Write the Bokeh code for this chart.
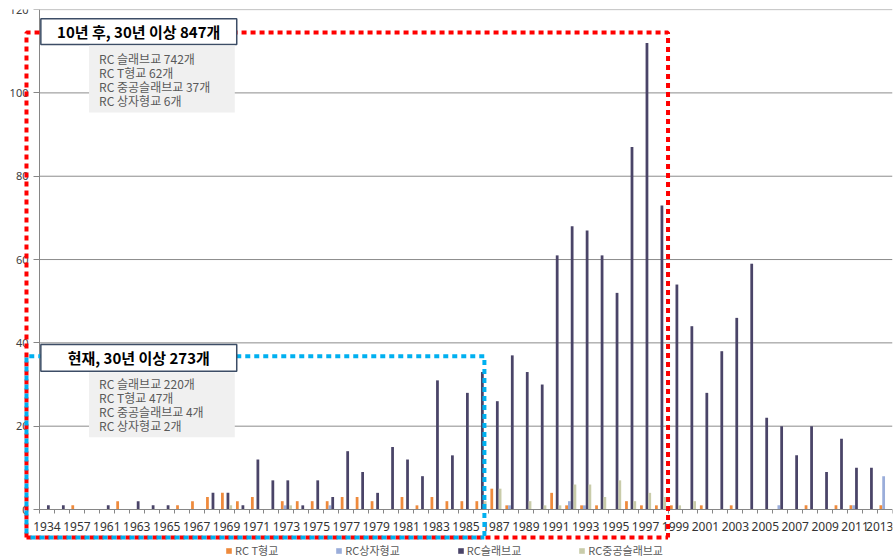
import numpy as np
from bokeh.plotting import figure
from bokeh.models import Range1d, FixedTicker, ColumnDataSource, Legend, LegendItem
from bokeh.core.properties import value
from bokeh.embed import file_html
from bokeh.resources import INLINE

# ---------------- data ----------------
years = ["1934", "1955", "1957", "1959"] + [str(y) for y in range(1961, 2014)]
rc_t = [0, 0, 1, 0, 0, 2, 0, 0, 0, 1, 2, 3, 4, 2, 3, 0, 2, 2, 2, 2,
        3, 3, 2, 0, 3, 1, 3, 2, 2, 2, 5, 1, 0, 0, 4, 1, 1, 1, 0, 2,
        1, 1, 1, 0, 1, 0, 1, 0, 0, 0, 0, 1, 0, 1, 1, 0, 1]
rc_box = [0, 0, 0, 0, 0, 0, 0, 0, 0, 0, 0, 0, 0, 0, 0, 0, 1, 0, 0, 1,
          0, 0, 0, 0, 0, 0, 0, 0, 0, 0, 0, 1, 0, 0, 0, 2, 1, 0, 0, 0,
          0, 0, 0, 0, 0, 0, 0, 0, 0, 1, 0, 0, 0, 0, 1, 0, 8]
rc_slab = [1, 1, 0, 0, 1, 0, 2, 1, 1, 0, 0, 4, 4, 1, 12, 7, 7, 1, 7, 3,
           14, 9, 4, 15, 12, 8, 31, 13, 28, 33, 26, 37, 33, 30, 61, 68, 67, 61, 52, 87,
           112, 73, 54, 44, 28, 38, 46, 59, 22, 20, 13, 20, 9, 17, 10, 10, 0]
rc_hollow = [0, 0, 0, 0, 0, 0, 0, 0, 0, 0, 0, 0, 1, 0, 0, 0, 1, 0, 0, 0,
             0, 0, 0, 0, 0, 0, 0, 0, 0, 2, 5, 0, 2, 1, 1, 6, 6, 3, 7, 2,
             4, 3, 1, 2, 0, 0, 0, 0, 0, 0, 0, 0, 0, 0, 0, 0, 0]
series_names = ["RC T형교", "RC상자형교", "RC슬래브교", "RC중공슬래브교"]
y_ticks = [0, 20, 40, 60, 80, 100, 120]

title_later = "10년 후, 30년 이상 847개"
notes_later = ["RC 슬래브교 742개", "RC T형교 62개", "RC 중공슬래브교  37개", "RC 상자형교 6개"]
title_now = "현재, 30년 이상 273개"
notes_now = ["RC 슬래브교 220개", "RC T형교 47개", "RC 중공슬래브교   4개", "RC 상자형교 2개"]

# ---------------- styles ----------------
colors = ["#EE8A3C", "#9AADDA", "#4A4468", "#C9CCAA"]
KR_NAME = "Noto Sans CJK KR"
KR = value(KR_NAME)
n = len(years)
x_lo, x_hi = -0.5, n - 0.5          # extent of the category axis
x_start = x_hi - 892 * n / 853.0    # extra room on the left for the y labels

# the frame covers the whole figure; both axes are pinned inside it
p = figure(width=893, height=560,
           x_range=Range1d(x_start, x_hi), y_range=Range1d(-12.24, 120.02),
           output_backend="svg", toolbar_location=None,
           min_border_left=0, min_border_right=1, min_border_top=9, min_border_bottom=0)
p.outline_line_color = None
p.background_fill_color = "white"
p.border_fill_color = "white"

# horizontal gridlines between the axis limits
p.segment(x0=[x_lo] * (len(y_ticks) - 1), x1=[x_hi] * (len(y_ticks) - 1),
          y0=y_ticks[1:], y1=y_ticks[1:], line_color="#8C8C8C", line_width=1,
          level="underlay")

# bars
idx = np.arange(n)
step = 0.185
renderers = []
for k, (vals, col) in enumerate(zip([rc_t, rc_box, rc_slab, rc_hollow], colors)):
    src = ColumnDataSource(dict(x=idx + (k - 1.5) * step, top=vals))
    r = p.vbar(x="x", top="top", bottom=0, width=step, source=src,
               fill_color=col, line_color=None)
    renderers.append(r)

# axes
xa = p.xaxis[0]
xa.fixed_location = 0
xa.bounds = (x_lo, x_hi)
xa.ticker = FixedTicker(ticks=list(range(0, n, 2)),
                        minor_ticks=[i - 0.5 for i in range(n + 1)])
xa.major_label_overrides = {i: years[i] for i in range(0, n, 2)}
xa.major_tick_line_color = None
xa.major_tick_out = 0
xa.major_tick_in = 0
xa.minor_tick_out = 4
xa.minor_tick_in = 0
xa.minor_tick_line_color = "#868686"
xa.axis_line_color = "#868686"
xa.major_label_standoff = 8
xa.major_label_text_font = "Noto Sans"
xa.major_label_text_font_size = "12px"
xa.major_label_text_color = "#333333"

ya = p.yaxis[0]
ya.fixed_location = x_lo
ya.ticker = FixedTicker(ticks=y_ticks)
ya.bounds = (0, 120)
ya.minor_tick_line_color = None
ya.major_tick_out = 6
ya.major_tick_in = 0
ya.major_tick_line_color = "#868686"
ya.axis_line_color = "#868686"
ya.major_label_standoff = 5
ya.major_label_text_font = "Noto Sans"
ya.major_label_text_font_size = "11px"
ya.major_label_text_color = "#404040"

p.xgrid.visible = False
p.ygrid.visible = False

# dashed highlight boxes (decoration)
L_edge, B_edge = -1.37, -6.7
red_right = years.index("1998") + 0.5
blue_right = years.index("1986") + 0.23
red_top, blue_top = 114.5, 36.8
p.line(x=[L_edge, L_edge, red_right, red_right], y=[B_edge, red_top, red_top, B_edge],
       line_color="#FF0000", line_width=4, line_dash="5 4", level="overlay")
p.line(x=[L_edge, red_right], y=[B_edge, B_edge],
       line_color="#FF0000", line_width=4, line_dash="5 4", level="overlay")
p.line(x=[L_edge, L_edge, blue_right, blue_right], y=[B_edge, blue_top, blue_top, B_edge],
       line_color="#00B0F0", line_width=4, line_dash="5 4", line_dash_offset=5, level="overlay")
p.line(x=[L_edge, blue_right], y=[B_edge, B_edge],
       line_color="#00B0F0", line_width=4, line_dash="5 4", line_dash_offset=5, level="overlay")

# text boxes
def note_block(title, notes, t_bottom, t_top, s_bottom, s_top, line_ys):
    p.quad(left=[-0.41], right=[12.68], bottom=[t_bottom], top=[t_top],
           fill_color="white", line_color="#3C4D66", line_width=1.5, level="overlay")
    p.text(x=[6.13], y=[(t_bottom + t_top) / 2], text=[title], text_font=KR,
           text_font_style="bold", text_font_size="15px", text_color="#000000",
           text_align="center", text_baseline="middle", level="overlay")
    p.quad(left=[2.81], right=[12.55], bottom=[s_bottom], top=[s_top],
           fill_color="#F0F0F0", line_color=None, level="overlay")
    p.text(x=[3.48] * len(notes), y=line_ys, text=notes, text_font=KR,
           text_font_size="12px", text_color="#595959",
           text_align="left", text_baseline="middle", level="overlay")

note_block(title_later, notes_later, 111.6, 117.8, 95.3, 111.4, [108.2, 104.9, 101.5, 98.2])
note_block(title_now, notes_now, 33.2, 39.6, 17.35, 32.95, [30.3, 26.8, 23.5, 20.2])

# legend (inside the frame, under the axis labels)
legend = Legend(items=[LegendItem(label=nm, renderers=[r]) for nm, r in zip(series_names, renderers)],
                orientation="horizontal", location=(225, 2),
                glyph_width=7, glyph_height=7, label_standoff=3,
                label_height=12, spacing=57, padding=0, margin=0,
                border_line_color=None, background_fill_alpha=0,
                label_text_font=KR_NAME, label_text_font_size="11px", label_text_color="#595959")
p.add_layout(legend)

open("out.html", "w").write(file_html(p, INLINE))
